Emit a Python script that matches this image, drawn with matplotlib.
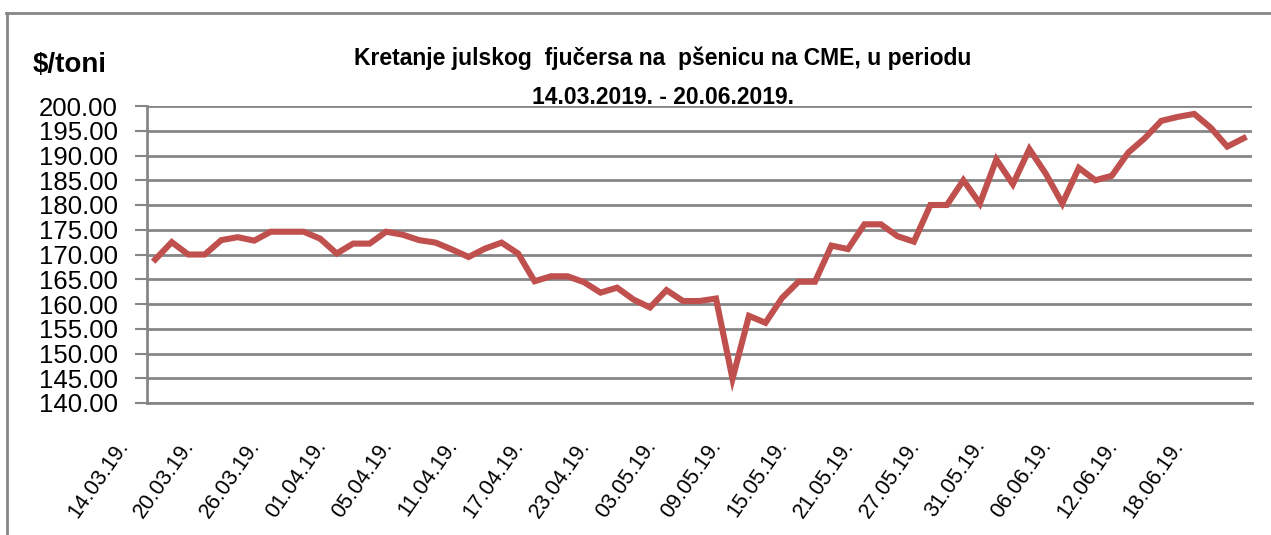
import matplotlib
matplotlib.use("Agg")
import matplotlib.pyplot as plt
import matplotlib.transforms as mtransforms
from matplotlib import font_manager
from matplotlib.lines import Line2D

# dates (trading days) and July wheat futures prices, $/t
dates = ["14.03.19.", "15.03.19.", "18.03.19.", "19.03.19.", "20.03.19.", "21.03.19.",
         "22.03.19.", "25.03.19.", "26.03.19.", "27.03.19.", "28.03.19.", "29.03.19.",
         "01.04.19.", "02.04.19.", "03.04.19.", "04.04.19.", "05.04.19.", "08.04.19.",
         "09.04.19.", "10.04.19.", "11.04.19.", "12.04.19.", "15.04.19.", "16.04.19.",
         "17.04.19.", "18.04.19.", "19.04.19.", "22.04.19.", "23.04.19.", "24.04.19.",
         "25.04.19.", "26.04.19.", "03.05.19.", "06.05.19.", "07.05.19.", "08.05.19.",
         "09.05.19.", "10.05.19.", "13.05.19.", "14.05.19.", "15.05.19.", "16.05.19.",
         "17.05.19.", "20.05.19.", "21.05.19.", "22.05.19.", "23.05.19.", "24.05.19.",
         "27.05.19.", "28.05.19.", "29.05.19.", "30.05.19.", "31.05.19.", "03.06.19.",
         "04.06.19.", "05.06.19.", "06.06.19.", "07.06.19.", "10.06.19.", "11.06.19.",
         "12.06.19.", "13.06.19.", "14.06.19.", "17.06.19.", "18.06.19.", "19.06.19.",
         "20.06.19."]

prices = [169.0, 172.5, 170.0, 170.0, 172.9, 173.5, 172.8, 174.6, 174.6, 174.6,
          173.2, 170.2, 172.2, 172.2, 174.6, 174.0, 172.9, 172.4, 171.0, 169.5,
          171.2, 172.4, 170.2, 164.6, 165.6, 165.6, 164.4, 162.3, 163.3, 160.9,
          159.3, 162.8, 160.6, 160.6, 161.1, 144.9, 157.6, 156.2, 161.2, 164.5,
          164.5, 171.8, 171.1, 176.1, 176.1, 173.7, 172.6, 180.0, 180.0, 185.0,
          180.3, 189.2, 184.2, 191.3, 186.3, 180.3, 187.5, 185.0, 185.9, 190.6,
          193.5, 197.0, 197.8, 198.4, 195.6, 191.8, 193.5]

yticks = [140, 145, 150, 155, 160, 165, 170, 175, 180, 185, 190, 195, 200]
title_lines = ["Kretanje julskog  fjučersa na  pšenicu na CME, u periodu",
               "14.03.2019. - 20.06.2019."]

names = {f.name for f in font_manager.fontManager.ttflist}
fam = "Liberation Sans Narrow" if "Liberation Sans Narrow" in names else "Liberation Sans"
plt.rcParams["font.family"] = [fam, "DejaVu Sans"]

fig = plt.figure(figsize=(12.71, 5.35), dpi=100)
ax = fig.add_axes([147 / 1271, 1 - 403 / 535, (1252 - 147) / 1271, (403 - 106) / 535])

x = list(range(len(prices)))
ax.plot(x, prices, color="#C0504D", lw=4.4, solid_joinstyle="miter", zorder=3)

ax.set_xlim(-0.5, len(prices) - 0.5)
ax.set_ylim(140, 200)
ax.set_yticks(yticks)
ax.set_yticklabels(["%.2f" % v for v in yticks], fontsize=18.5)
ax.yaxis.grid(True, color="#868686", lw=2)
ax.set_axisbelow(True)

ax.set_xticks(x[::4])
ax.set_xticklabels(dates[::4], rotation=55, ha="right", va="top",
                   rotation_mode="anchor", fontsize=15.5)
ax.tick_params(axis="x", length=0, pad=0)
ax.tick_params(axis="y", length=9, width=1.5, color="#868686", pad=12)
shift = mtransforms.ScaledTranslation(-0.40, -0.33, fig.dpi_scale_trans)
for lbl in ax.get_xticklabels():
    lbl.set_transform(lbl.get_transform() + shift)

for s in ["top", "right"]:
    ax.spines[s].set_visible(False)
for s in ["left", "bottom"]:
    ax.spines[s].set_color("#868686")
    ax.spines[s].set_linewidth(2)

fig.text(70 / 1271, 1 - 65 / 535, "$/toni", fontsize=20, fontweight="bold",
         ha="center", va="center")
fig.text(663 / 1271, 1 - 58 / 535, title_lines[0], fontsize=16.5, fontweight="bold",
         ha="center", va="center")
fig.text(663 / 1271, 1 - 97 / 535, title_lines[1], fontsize=16.5, fontweight="bold",
         ha="center", va="center")

# outer chart frame (top and left edges visible)
fig.add_artist(Line2D([6 / 1271, 1], [1 - 13 / 535, 1 - 13 / 535], color="#868686", lw=2))
fig.add_artist(Line2D([7 / 1271, 7 / 1271], [0, 1 - 13 / 535], color="#868686", lw=2))

fig.savefig("out.png", dpi=100)
